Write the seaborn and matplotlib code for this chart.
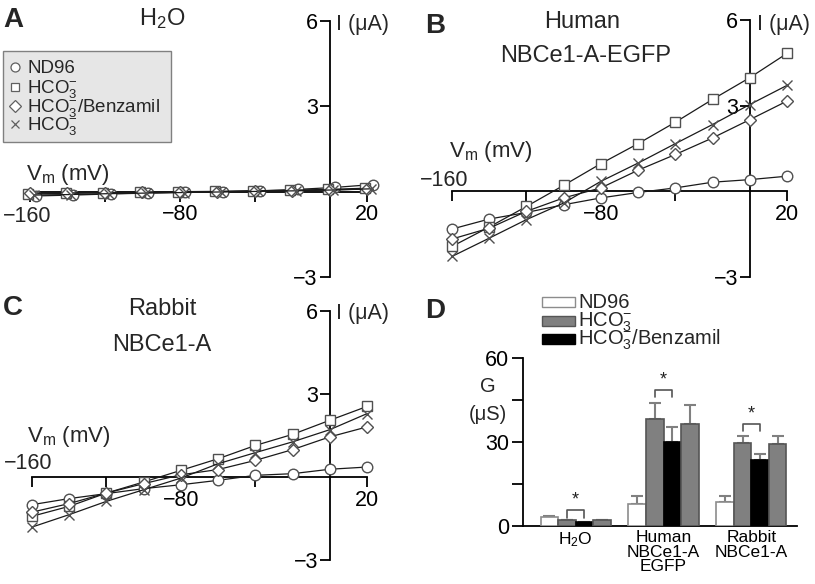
import numpy as np
import pandas as pd
import matplotlib
matplotlib.use("Agg")
import matplotlib.pyplot as plt
import seaborn as sns
from matplotlib.lines import Line2D
from matplotlib.patches import Rectangle

# ---------------- data ----------------
voltage = [-160, -140, -120, -100, -80, -60, -40, -20, 0, 20]

# Panel A (H2O)
A_nd96 = [-0.15, -0.12, -0.08, -0.05, -0.02, 0.00, 0.03, 0.08, 0.15, 0.25]
A_hco3 = [-0.08, -0.06, -0.04, -0.02, 0.00, 0.01, 0.03, 0.05, 0.08, 0.12]
A_benz = [-0.05, -0.04, -0.03, -0.02, -0.01, 0.00, 0.02, 0.04, 0.06, 0.09]
A_wash = [-0.12, -0.10, -0.07, -0.05, -0.03, -0.01, 0.01, 0.03, 0.06, 0.10]
A_volt_nd96 = [-157, -137, -117, -97, -77, -57, -37, -17, 3, 23]
A_volt_hco3 = [-161, -141, -121, -101, -81, -61, -41, -21, -1, 19]
A_volt_benz = [-160, -140, -120, -100, -80, -60, -40, -20, 0, 20]
A_volt_wash = [-158, -138, -118, -98, -78, -58, -38, -18, 2, 22]

# Panel B (Human NBCe1-A-EGFP)
B_nd96 = [-1.32, -0.97, -0.74, -0.47, -0.23, -0.04, 0.12, 0.32, 0.41, 0.53]
B_hco3 = [-1.93, -1.25, -0.53, 0.21, 0.97, 1.67, 2.42, 3.22, 3.98, 4.83]
B_benz = [-1.67, -1.29, -0.70, -0.23, 0.12, 0.74, 1.29, 1.87, 2.51, 3.16]
B_wash = [-2.28, -1.64, -0.99, -0.41, 0.35, 0.99, 1.67, 2.34, 3.04, 3.71]

# Panel C (Rabbit NBCe1-A)
C_nd96 = [-1.00, -0.78, -0.60, -0.42, -0.28, -0.12, 0.06, 0.12, 0.28, 0.36]
C_hco3 = [-1.42, -1.06, -0.58, -0.18, 0.24, 0.66, 1.14, 1.54, 2.05, 2.55]
C_benz = [-1.27, -0.96, -0.58, -0.24, 0.08, 0.27, 0.60, 0.99, 1.45, 1.81]
C_wash = [-1.81, -1.36, -0.88, -0.46, -0.04, 0.48, 0.88, 1.27, 1.71, 2.29]

# Panel D (conductance)
groups = ["H2O", "Human", "Rabbit"]
group_labels = [r"H$_\mathregular{2}$O", "Human\nNBCe1-A\nEGFP", "Rabbit\nNBCe1-A"]
conditions = ["ND96", "HCO3", "HCO3/Benzamil", "HCO3 wash"]
G_nd96 = [3.2, 8.0, 8.4]
G_hco3 = [2.0, 38.3, 29.6]
G_benz = [1.4, 30.1, 23.6]
G_wash = [2.0, 36.6, 29.3]
err_nd96 = [0.3, 2.8, 2.4]
err_hco3 = [0.2, 5.5, 2.4]
err_benz = [0.2, 5.2, 2.1]
err_wash = [0.2, 6.5, 2.7]
sig_level = [5.6, 48.5, 36.5]

legend_labels = ["ND96", r"HCO$_\mathregular{3}^{-}$",
                 r"HCO$_\mathregular{3}^{-}$/Benzamil", r"HCO$_\mathregular{3}^{-}$"]

# ---------------- style ----------------
sns.set_theme(style="ticks")
plt.rcParams["font.family"] = ["Liberation Sans", "DejaVu Sans"]
plt.rcParams["mathtext.fontset"] = "custom"
plt.rcParams["mathtext.rm"] = "Liberation Sans"
plt.rcParams["mathtext.it"] = "Liberation Sans:italic"
plt.rcParams["mathtext.bf"] = "Liberation Sans:bold"
plt.rcParams["axes.unicode_minus"] = True

W, H = 815, 584
fig = plt.figure(figsize=(W / 100, H / 100), dpi=100)
fig.patch.set_facecolor("white")


def rect(x0, x1, ytop, ybot):
    return [x0 / W, 1 - ybot / H, (x1 - x0) / W, (ybot - ytop) / H]


def ftext(x, y, s, **kw):
    fig.text(x / W, 1 - y / H, s, **kw)


LINE_C = "#1a1a1a"
MEC = "#505050"
markers = [("o", 7.6), ("s", 7.2), ("D", 6.6), ("x", 6.6)]


def iv_panel(r, series, volts):
    ax = fig.add_axes(r)
    for vals, vv, (mk, ms) in zip(series, volts, markers):
        sns.lineplot(x=vv, y=vals, ax=ax, color=LINE_C, lw=0.9, marker=mk,
                     ms=ms, mfc="white", mec=MEC, mew=1.0, clip_on=False,
                     legend=False, estimator=None, sort=False)
    ax.set_xlim(-160, 20)
    ax.set_ylim(-3, 6)
    ax.set_facecolor("none")
    for s in ("top", "right"):
        ax.spines[s].set_visible(False)
    for s in ("left", "bottom"):
        ax.spines[s].set_position(("data", 0))
        ax.spines[s].set_linewidth(1.3)
        ax.spines[s].set_color("black")
        ax.spines[s].set_zorder(1)
    ax.set_xticks([-160, -120, -80, -40, 20])
    ax.set_xticklabels(["", "", "\u221280", "", "20"])
    ax.set_yticks([-3, 3, 6])
    ax.set_yticklabels(["\u22123", "3", "6"])
    ax.tick_params(axis="x", direction="out", length=7, width=1.3, labelsize=15.5,
                   pad=2, colors="black", bottom=True)
    ax.tick_params(axis="y", direction="out", length=7, width=1.3, labelsize=15.5,
                   pad=1.5, colors="black", left=True)
    ax.set_xlabel("")
    ax.set_ylabel("")
    return ax


rA = rect(30, 367, 21, 277)
rB = rect(452, 787, 20, 277)
rC = rect(32, 367, 311, 560)
axA = iv_panel(rA, [A_nd96, A_hco3, A_benz, A_wash],
               [A_volt_nd96, A_volt_hco3, A_volt_benz, A_volt_wash])
axB = iv_panel(rB, [B_nd96, B_hco3, B_benz, B_wash], [voltage] * 4)
axC = iv_panel(rC, [C_nd96, C_hco3, C_benz, C_wash], [voltage] * 4)

vm = r"V$_\mathregular{m}$ (mV)"
# Panel A labels
ftext(3, 27, "A", fontsize=20, fontweight="bold", va="baseline")
ftext(162, 25, r"H$_\mathregular{2}$O", fontsize=17, ha="center", va="baseline")
ftext(336, 30, "I (\u03bcA)", fontsize=15.5, va="baseline")
ftext(26, 180, vm, fontsize=16, va="baseline")
ftext(3, 222, "\u2212160", fontsize=15.5, ha="left", va="baseline")
# Panel B labels
ftext(425, 33, "B", fontsize=20, fontweight="bold", va="baseline")
ftext(582, 28, "Human", fontsize=17, ha="center", va="baseline")
ftext(586, 62, "NBCe1-A-EGFP", fontsize=17, ha="center", va="baseline")
ftext(757, 30, "I (\u03bcA)", fontsize=15.5, va="baseline")
ftext(449, 157, vm, fontsize=16, va="baseline")
ftext(444, 186, "\u2212160", fontsize=15.5, ha="center", va="baseline")
# Panel C labels
ftext(3, 315, "C", fontsize=20, fontweight="bold", va="baseline")
ftext(162, 315, "Rabbit", fontsize=17, ha="center", va="baseline")
ftext(162, 351, "NBCe1-A", fontsize=17, ha="center", va="baseline")
ftext(336, 319, "I (\u03bcA)", fontsize=15.5, va="baseline")
ftext(27, 442, vm, fontsize=16, va="baseline")
ftext(4, 469, "\u2212160", fontsize=15.5, ha="left", va="baseline")

# Panel A legend (manual box)
fig.patches.append(Rectangle((3 / W, 1 - 142 / H), 168 / W, 91 / H,
                             transform=fig.transFigure, fc="#e6e6e6",
                             ec="#808080", lw=1.0, zorder=0))
leg_rows = [73, 93, 112, 130]
for (mk, ms), lab, yb in zip(markers, legend_labels, leg_rows):
    fig.add_artist(Line2D([15 / W], [1 - (yb - 6) / H], transform=fig.transFigure,
                          marker=mk, ms=ms * 0.85, mfc="white", mec="#606060",
                          mew=0.9, ls="none"))
    ftext(27, yb, lab, fontsize=13.5, va="baseline")

# ---------------- Panel D ----------------
axD = fig.add_axes(rect(523, 797, 358, 526))
rows = []
vals = [G_nd96, G_hco3, G_benz, G_wash]
errs = [err_nd96, err_hco3, err_benz, err_wash]
for ci, cond in enumerate(conditions):
    for gi, g in enumerate(groups):
        rows.append({"group": g, "cond": cond, "G": vals[ci][gi], "err": errs[ci][gi]})
df = pd.DataFrame(rows)
palette = {"ND96": "white", "HCO3": "#808080", "HCO3/Benzamil": "black",
           "HCO3 wash": "#808080"}
edgecols = {"ND96": "#8c8c8c", "HCO3": "#555555", "HCO3/Benzamil": "black",
            "HCO3 wash": "#555555"}
sns.barplot(data=df, x="group", y="G", hue="cond", order=groups,
            hue_order=conditions, palette=palette, errorbar=None, width=0.8,
            saturation=1, legend=False, ax=axD)

centers = {}
for ci, (cont, cond) in enumerate(zip(axD.containers, conditions)):
    for gi, p in enumerate(cont.patches):
        p.set_edgecolor(edgecols[cond])
        p.set_linewidth(1.2)
        p.set_zorder(3)
        xc = p.get_x() + p.get_width() / 2
        top = p.get_height()
        centers[(ci, gi)] = (xc, top)
        axD.errorbar([xc], [top], yerr=[[0], [errs[ci][gi]]], fmt="none",
                     ecolor="#808080", elinewidth=1.5, capsize=4.5, capthick=1.5,
                     zorder=2)

for gi in range(len(groups)):
    x1 = centers[(1, gi)][0]
    x2 = centers[(2, gi)][0]
    yl = sig_level[gi]
    dd = 2.6
    axD.plot([x1, x1, x2, x2], [yl - dd, yl, yl, yl - dd], color="#555555",
             lw=1.2, zorder=4)
    axD.text((x1 + x2) / 2, yl + 0.6, "*", ha="center", va="bottom",
             fontsize=13, color="#222222")

axD.set_xlim(-0.6, 2.52)
axD.set_ylim(0, 60)
axD.set_facecolor("none")
for s in ("top", "right"):
    axD.spines[s].set_visible(False)
for s in ("left", "bottom"):
    axD.spines[s].set_linewidth(1.3)
    axD.spines[s].set_color("black")
axD.set_yticks([0, 30, 60])
axD.set_yticks([15, 45], minor=True)
axD.tick_params(axis="y", which="both", direction="out", length=8, width=1.3,
                labelsize=15.5, pad=2, colors="black", left=True)
axD.set_xticks(range(len(groups)))
axD.set_xticklabels(group_labels)
axD.tick_params(axis="x", length=0, labelsize=12.5, pad=3, colors="black")
for t in axD.get_xticklabels():
    t.set_linespacing(0.95)
axD.set_xlabel("")
axD.set_ylabel("")

ftext(425, 318, "D", fontsize=20, fontweight="bold", va="baseline")
ftext(488, 392, "G", fontsize=14.5, ha="center", va="baseline")
ftext(488, 420, "(\u03bcS)", fontsize=14.5, ha="center", va="baseline")

# Panel D legend (manual)
d_rows = [307, 326, 344]
for lab, col, ec, yb in zip(legend_labels[:3], ["white", "#808080", "black"],
                            ["#8c8c8c", "#555555", "black"], d_rows):
    fig.patches.append(Rectangle((542 / W, 1 - yb / H), 33 / W, 10 / H,
                                 transform=fig.transFigure, fc=col, ec=ec, lw=1.0))
    ftext(578, yb + 1, lab, fontsize=14.5, va="baseline")

fig.savefig("out.png", dpi=100, facecolor="white")
